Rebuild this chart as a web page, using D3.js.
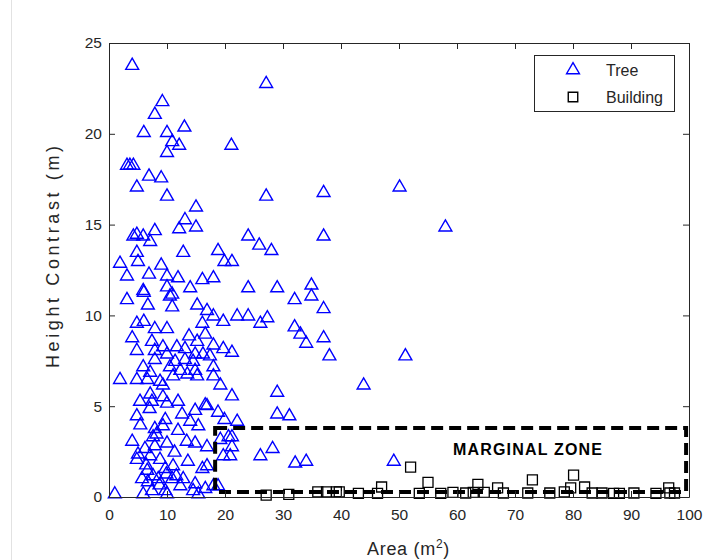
<!DOCTYPE html>
<meta charset="utf-8">
<script src="https://d3js.org/d3.v7.min.js"></script>
<style>
  body { margin: 0; background: #fff; }
  text { font-family: "Liberation Sans", Arial, sans-serif; }
</style>
<svg id="chart" width="703" height="560"></svg>
<script>

// Tree samples: area (m2) and height contrast (m)
const treeArea = [
  4.0, 27.1, 9.2, 7.9, 6.0, 10.0, 13.0, 10.9, 12.1, 10.0, 21.1, 3.6, 3.1, 4.2, 6.9, 9.0, 4.8, 10.0, 27.1, 37.0,
  50.1, 15.0, 58.0, 13.1, 12.1, 15.0, 7.9, 4.2, 4.8, 5.9, 7.1, 4.8, 12.8, 1.9, 3.1, 5.0, 9.0, 6.9, 10.0, 11.9,
  16.1, 18.0, 10.0, 10.9, 14.0, 5.9, 24.0, 37.0, 18.8, 19.9, 25.9, 28.0, 21.2, 24.0, 29.0, 34.9, 32.0, 34.9, 6.0, 10.5,
  3.1, 6.7, 10.9, 15.2, 16.9, 18.0, 19.7, 22.1, 24.0, 26.1, 27.3, 37.0, 32.0, 33.0, 34.0, 37.0, 38.0, 51.1, 43.9, 16.1,
  4.8, 6.0, 7.9, 10.0, 4.0, 7.4, 13.8, 16.6, 15.2, 18.0, 19.7, 21.2, 4.8, 7.9, 9.3, 10.0, 11.7, 13.1, 14.85, 16.2,
  7.9, 13.1, 11.4, 14.5, 18.0, 17.4, 5.9, 7.1, 10.5, 12.3, 14.85, 1.9, 4.8, 6.6, 8.8, 11.05, 13.5, 15.2, 18.0, 19.2,
  9.3, 21.2, 7.1, 5.35, 7.4, 9.3, 10.0, 11.9, 14.85, 16.6, 18.8, 4.8, 9.7, 14.0, 15.4, 11.9, 7.9, 9.3, 7.6, 7.9,
  4.0, 10.0, 6.2, 5.0, 4.8, 7.1, 8.8, 11.05, 9.7, 13.6, 14.85, 16.9, 19.2, 21.2, 20.9, 16.1, 6.6, 7.6, 5.7, 6.7,
  8.5, 10.9, 12.8, 14.85, 18.8, 16.6, 14.5, 7.4, 9.7, 12.3, 1.0, 5.9, 10.0, 15.4, 29.0, 29.0, 31.1, 26.1, 28.2, 32.1,
  34.0, 49.1, 22.1, 19.7, 20.6, 16.9, 18.0, 21.2, 19.9, 16.9, 8.2, 11.3, 6.4, 12.6, 9.9, 7.0, 13.4, 8.7, 5.4, 11.6
];
const treeHeight = [
  23.7, 22.7, 21.7, 21.0, 20.0, 20.0, 20.3, 19.5, 19.3, 18.9, 19.3, 18.2, 18.2, 18.2, 17.6, 17.5, 17.0, 16.5, 16.5, 16.7,
  17.0, 15.9, 14.8, 15.2, 14.7, 14.8, 14.6, 14.3, 14.4, 14.3, 14.0, 13.4, 13.4, 12.8, 12.1, 12.9, 12.7, 12.2, 12.1, 12.0,
  11.9, 12.0, 11.5, 11.1, 11.45, 11.3, 14.3, 14.3, 13.5, 12.9, 13.8, 13.5, 12.9, 11.45, 11.45, 11.6, 10.8, 11.0, 11.2, 11.0,
  10.8, 10.5, 10.4, 10.5, 10.2, 9.9, 9.6, 9.9, 9.9, 9.5, 9.8, 10.3, 9.3, 8.9, 8.4, 8.7, 7.7, 7.7, 6.1, 9.5,
  9.5, 9.6, 9.2, 9.2, 8.7, 8.5, 8.8, 8.9, 8.5, 8.3, 8.1, 7.9, 8.0, 8.0, 8.2, 7.8, 8.2, 8.1, 7.8, 7.8,
  7.5, 7.5, 7.4, 7.4, 7.1, 7.7, 7.1, 6.8, 7.1, 6.9, 6.9, 6.4, 6.4, 6.4, 6.3, 6.6, 6.7, 6.6, 6.6, 6.1,
  6.1, 5.5, 5.6, 5.2, 5.2, 5.45, 5.1, 5.2, 4.7, 5.0, 4.6, 4.4, 4.2, 4.1, 3.85, 3.6, 3.7, 3.85, 3.25, 2.75,
  3.0, 2.9, 2.6, 2.3, 2.0, 2.2, 2.0, 1.65, 1.5, 1.9, 2.9, 2.7, 3.1, 3.25, 2.2, 1.5, 1.4, 1.1, 0.94, 0.77,
  0.94, 0.94, 0.94, 0.66, 0.55, 0.4, 0.28, 0.28, 0.28, 0.55, 0.1, 0.1, 0.1, 0.1, 5.7, 4.5, 4.4, 2.2, 2.6, 1.8,
  1.9, 1.9, 4.1, 2.2, 3.25, 1.65, 0.55, 2.7, 4.2, 4.96, 3.4, 2.4, 1.7, 4.5, 1.2, 4.8, 3.0, 0.6, 3.9, 1.1
];

// Building samples
const buildingArea = [
  27.1, 31.0, 36.0, 37.5, 39.2, 39.7, 43.0, 46.3, 47.0, 52.0, 53.5, 55.0, 57.2, 59.3, 61.5, 63.6, 62.8, 64.7,
  67.0, 68.0, 72.2, 73.0, 76.0, 78.5, 80.1, 79.6, 82.0, 83.3, 85.0, 87.0, 88.0, 90.5, 94.3, 96.5, 96.7, 97.5
];
const buildingHeight = [
  0.1, 0.15, 0.28, 0.28, 0.28, 0.28, 0.2, 0.2, 0.55, 1.65, 0.2, 0.8, 0.2, 0.25, 0.22, 0.7, 0.25, 0.25,
  0.5, 0.22, 0.22, 0.94, 0.22, 0.28, 1.2, 0.5, 0.55, 0.22, 0.22, 0.2, 0.2, 0.22, 0.2, 0.5, 0.22, 0.22
];

// Marginal zone box (area, height)
const zoneArea = [18.3, 99.5];
const zoneHeight = [0.28, 3.8];

const xTicks = [0, 10, 20, 30, 40, 50, 60, 70, 80, 90, 100];
const yTicks = [0, 5, 10, 15, 20, 25];
const legendLabels = ["Tree", "Building"];

const svg = d3.select("#chart");
const width = +svg.attr("width"), height = +svg.attr("height");
const margin = {top: 43, right: 14, bottom: 63, left: 109};

const x = d3.scaleLinear().domain([0, 100]).range([margin.left, width - margin.right]);
const y = d3.scaleLinear().domain([0, 25]).range([height - margin.bottom, margin.top]);

svg.append("rect").attr("width", width).attr("height", height).attr("fill", "#fff");

// faint page edge on the left
svg.append("line")
  .attr("x1", 11.5).attr("x2", 11.5).attr("y1", 0).attr("y2", height)
  .attr("stroke", "#e2e2e2").attr("stroke-width", 1);

const tri = d3.symbol().type(d3.symbolTriangle).size(72);
const sq = d3.symbol().type(d3.symbolSquare).size(100);

// trees
svg.append("g")
  .selectAll("path")
  .data(treeArea.map((a, i) => [a, treeHeight[i]]))
  .join("path")
    .attr("transform", d => `translate(${x(d[0])},${y(d[1]) - 1})`)
    .attr("d", tri)
    .attr("fill", "none")
    .attr("stroke", "#0000ff")
    .attr("stroke-width", 1.4);

// buildings
svg.append("g")
  .selectAll("path")
  .data(buildingArea.map((a, i) => [a, buildingHeight[i]]))
  .join("path")
    .attr("transform", d => `translate(${x(d[0])},${y(d[1])})`)
    .attr("d", sq)
    .attr("fill", "none")
    .attr("stroke", "#000")
    .attr("stroke-width", 1.3);

// marginal zone
svg.append("rect")
  .attr("x", x(zoneArea[0]))
  .attr("y", y(zoneHeight[1]))
  .attr("width", x(zoneArea[1]) - x(zoneArea[0]))
  .attr("height", y(zoneHeight[0]) - y(zoneHeight[1]))
  .attr("fill", "none")
  .attr("stroke", "#000")
  .attr("stroke-width", 4)
  .attr("stroke-dasharray", "12,6");

svg.append("text")
  .attr("x", 453)
  .attr("y", 455)
  .attr("textLength", 149)
  .attr("lengthAdjust", "spacing")
  .style("font-size", "16px")
  .style("font-weight", "bold")
  .attr("fill", "#000")
  .text("MARGINAL ZONE");

// axes (box with inward ticks)
const axisColor = "#262626";
function styleAxis(g) {
  g.selectAll("path.domain").attr("stroke", axisColor);
  g.selectAll(".tick line").attr("stroke", axisColor);
  g.selectAll(".tick text").attr("fill", "#262626").style("font-size", "15.5px");
}

svg.append("g")
  .attr("transform", `translate(0,${height - margin.bottom})`)
  .call(d3.axisBottom(x).tickValues(xTicks).tickSizeInner(-6).tickSizeOuter(0).tickPadding(12))
  .call(styleAxis);

svg.append("g")
  .attr("transform", `translate(0,${margin.top})`)
  .call(d3.axisTop(x).tickValues(xTicks).tickSizeInner(-6).tickSizeOuter(0).tickFormat(""))
  .call(styleAxis);

svg.append("g")
  .attr("transform", `translate(${margin.left},0)`)
  .call(d3.axisLeft(y).tickValues(yTicks).tickSizeInner(-6).tickSizeOuter(0).tickPadding(7))
  .call(styleAxis);

svg.append("g")
  .attr("transform", `translate(${width - margin.right},0)`)
  .call(d3.axisRight(y).tickValues(yTicks).tickSizeInner(-6).tickSizeOuter(0).tickFormat(""))
  .call(styleAxis);

// axis titles
const xTitle = svg.append("text")
  .attr("x", 367)
  .attr("y", 555)
  .attr("fill", "#262626")
  .style("font-size", "18px")
  .style("letter-spacing", "0.7px");
xTitle.append("tspan").text("Area (m");
xTitle.append("tspan").attr("dy", -7).style("font-size", "12px").text("2");
xTitle.append("tspan").attr("dy", 7).text(")");

svg.append("text")
  .attr("transform", "translate(59,368) rotate(-90)")
  .attr("textLength", 222)
  .attr("lengthAdjust", "spacing")
  .attr("fill", "#262626")
  .style("font-size", "18px")
  .text("Height Contrast (m)");

// legend
const legend = svg.append("g");
legend.append("rect")
  .attr("x", 534.5).attr("y", 55.5).attr("width", 140).attr("height", 56)
  .attr("fill", "#fff").attr("stroke", axisColor).attr("stroke-width", 1);

const rows = legend.selectAll("g.row")
  .data(legendLabels)
  .join("g")
    .attr("class", "row")
    .attr("transform", (d, i) => `translate(0,${70 + i * 27})`);

rows.append("path")
  .attr("transform", "translate(573,0)")
  .attr("d", (d, i) => i === 0 ? tri() : d3.symbol().type(d3.symbolSquare).size(90)())
  .attr("fill", "none")
  .attr("stroke", (d, i) => i === 0 ? "#0000ff" : "#000")
  .attr("stroke-width", 1.4);

rows.append("text")
  .attr("x", 606)
  .attr("y", 0)
  .attr("dy", "0.35em")
  .attr("fill", "#262626")
  .style("font-size", "16px")
  .text(d => d);

</script>
